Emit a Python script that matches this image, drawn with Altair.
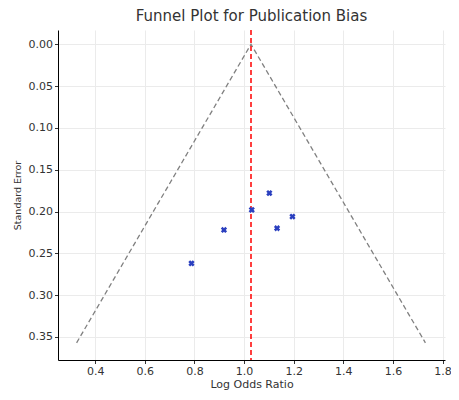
import altair as alt
import pandas as pd

log_or = [0.788, 0.919, 1.031, 1.102, 1.133, 1.195]
std_err = [0.262, 0.222, 0.198, 0.178, 0.220, 0.206]
center = 1.028
funnel_x = [0.325, 1.028, 1.731]
funnel_y = [0.357, 0.0, 0.357]
funnel_order = [0, 1, 2]

pts = pd.DataFrame({"x": log_or, "y": std_err})
fun = pd.DataFrame({"x": funnel_x, "y": funnel_y, "o": funnel_order})
cen = pd.DataFrame({"x": [center]})

xs = alt.Scale(domain=[0.25, 1.81], nice=False, zero=False)
ys = alt.Scale(domain=[-0.017, 0.3775], nice=False, zero=False, reverse=True)

xax = alt.Axis(title="Log Odds Ratio", values=[0.4, 0.6, 0.8, 1.0, 1.2, 1.4, 1.6, 1.8], format=".1f",
               labelFontSize=11, titleFontSize=11, labelPadding=2, titlePadding=2)
yax = alt.Axis(title="Standard Error", values=[0, 0.05, 0.1, 0.15, 0.2, 0.25, 0.3, 0.35], format=".2f",
               labelFontSize=11, titleFontSize=9.5, labelPadding=2, titlePadding=6)

funnel = alt.Chart(fun).mark_line(color="#808080", strokeDash=[5, 3], strokeWidth=1.3).encode(
    x=alt.X("x:Q", scale=xs, axis=xax),
    y=alt.Y("y:Q", scale=ys, axis=yax),
    order="o:Q",
)
rule = alt.Chart(cen).mark_rule(color="#ff0000", strokeDash=[5, 3], strokeWidth=1.5).encode(
    x=alt.X("x:Q", scale=xs)
)
points = alt.Chart(pts).mark_point(shape="cross", angle=45, filled=True, size=40, color="#2a3fbf", opacity=1).encode(
    x=alt.X("x:Q", scale=xs),
    y=alt.Y("y:Q", scale=ys),
)

chart = (funnel + rule + points).properties(
    width=387, height=330,
    autosize=alt.AutoSizeParams(type="none"),
    padding={"left": 50, "top": 22, "right": 6, "bottom": 32},
    title=alt.TitleParams("Funnel Plot for Publication Bias", fontSize=15, font="DejaVu Sans",
                          fontWeight="normal", color="#333333", offset=5),
).configure_view(stroke=None).configure_axis(
    domainColor="#000000", domainWidth=1, tickColor="#333333", tickSize=3.5,
    gridColor="#ebebeb", labelFont="DejaVu Sans", labelColor="#333333",
    titleFont="DejaVu Sans", titleFontWeight="normal", titleColor="#333333",
)

chart.save("out.html", embed_options={"renderer": "svg", "actions": False})
